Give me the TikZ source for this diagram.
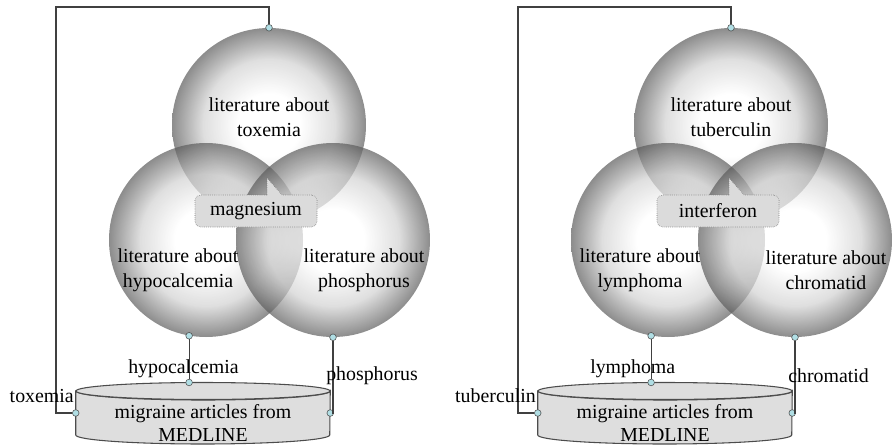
\documentclass[tikz,border=0pt]{standalone}
\usepackage{fontspec}
\setmainfont{Liberation Serif}

\definecolor{portcol}{RGB}{176,222,228}
\pgfdeclareradialshading{sphere}{\pgfpoint{0bp}{0bp}}{%
  color(0bp)=(white); color(8bp)=(white); color(17bp)=(black!18);
  color(25bp)=(black!64); color(50bp)=(black!64)}

\def\spheres#1#2{%
  \node[ball] (#2top) at (#1+269,125) {};
  \node[ball] (#2left) at (#1+206,240) {};
  \node[ball] (#2right) at (#1+333,240) {};}
\def\topics#1#2#3#4#5{%
  \node[topic] (#2toptxt) at (#1+269,117) {literature about\\#3};
  \node[topic] (#2lefttxt) at (#1+178,270) {literature about\\#4};
  \node[topic] (#2righttxt) at (#1+364,270) {literature about\\#5};}
\def\hit#1#2#3{%
  \node[hitbox] (#2hit) at (#1+256,211) {#3};
  \fill[black!14] (#1+267,196) -- (#1+267,178) -- (#1+283,196) -- cycle;
  \draw[hitline] (#1+267,195) -- (#1+267,178) -- (#1+282,195);}
\def\base#1#2{%
  \node[db] (#2db) at (#1+203,413) {};
  \path[dbline] (#2db.north west) -- (#2db.south west)
    arc[start angle=180, end angle=0, x radius=127, y radius=9]
    -- (#2db.north east)
    arc[start angle=0, end angle=180, x radius=127, y radius=9] -- cycle;
  \draw[dbline] (#2db.north) ellipse[x radius=127, y radius=8.5];
  \node[topic, font=\fontsize{14.9}{17.3}\selectfont] (#2dbtxt)
    at ([yshift=-7.5pt]#2db.center) {migraine articles from\\MEDLINE};}
\def\wires#1#2#3#4#5{%
  \node[port] (#2tp) at (#2top.north) {};
  \node[port] (#2lp) at (#2left.260) {};
  \node[port] (#2rp) at (#2right.south) {};
  \node[port] (#2dt) at ([yshift=6.4pt]#2db.north -| #2lp) {};
  \node[port] (#2dl) at (#2db.west) {};
  \node[port] (#2dr) at (#2db.east) {};
  \draw[wire] (#2tp) |- (#1+56,7) |- (#2dl);
  \draw[wire] (#2lp) -- (#2dt);
  \draw[wire] (#2rp) |- (#2dr);
  \node[term, anchor=east] (#2tl) at (#1+74,396) {#3};
  \node[term, anchor=west] (#2ll) at (#1+128,369) {#4};
  \node[term, anchor=west] (#2rl) at (#1+326,376) {#5};}

\begin{document}
\begin{tikzpicture}[x=0.75pt, y=-0.75pt,
    ball/.style={circle, shade, shading=sphere, fill opacity=0.7,
        minimum size=145.5pt, inner sep=0pt},
    topic/.style={align=center, inner sep=0pt,
        font=\fontsize{14.9}{18.8}\selectfont},
    term/.style={inner sep=0pt, font=\fontsize{14.9}{18.8}\selectfont},
    hitbox/.style={draw=black!55, densely dotted, fill=black!14,
        rounded corners=4pt, minimum width=91.5pt, minimum height=24pt,
        inner sep=0pt, font=\fontsize{14.9}{18.8}\selectfont},
    hitline/.style={draw=black!55, densely dotted},
    db/.style={inner sep=0pt, minimum width=190.5pt, minimum height=32.6pt},
    dbline/.style={draw=black!70, fill=black!13, line width=0.8pt},
    port/.style={circle, draw=black!70, fill=portcol, minimum size=5pt,
        inner sep=0pt},
    wire/.style={draw=black!75, line width=0.9pt},
    ]
    \useasboundingbox (0,0) rectangle (893,447);
    % left diagram
    \spheres{0}{a}
    \topics{0}{a}{toxemia}{hypocalcemia}{phosphorus}
    \hit{0}{a}{magnesium}
    \base{0}{a}
    \wires{0}{a}{toxemia}{hypocalcemia}{phosphorus}
    % right diagram
    \spheres{462}{b}
    \topics{462}{b}{tuberculin}{lymphoma}{chromatid}
    \hit{462}{b}{interferon}
    \base{462}{b}
    \wires{462}{b}{tuberculin}{lymphoma}{chromatid}
\end{tikzpicture}
\end{document}
